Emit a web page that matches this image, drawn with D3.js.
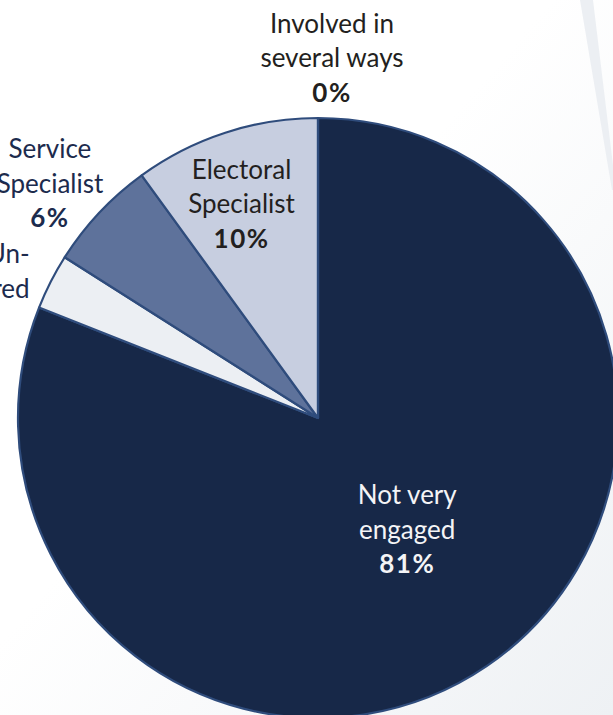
<!DOCTYPE html>
<html>
<head>
<meta charset="utf-8">
<script src="https://cdn.jsdelivr.net/npm/d3@7"></script>
<style>
  html, body { margin: 0; padding: 0; background: #ffffff; }
  svg { display: block; }
</style>
</head>
<body>
<svg id="chart" width="613" height="715"></svg>
<script>
// Engagement shares, in drawing order (clockwise from 12 o'clock)
const categories = ["Not very engaged", "Un-answered", "Service Specialist", "Electoral Specialist", "Involved in several ways"];
const labelLines = [["Not very", "engaged"], ["Un-", "answered"], ["Service", "Specialist"], ["Electoral", "Specialist"], ["Involved in", "several ways"]];
const shares = [81, 3, 6, 10, 0];
const showPercent = [true, false, true, true, true];

const fills = ["#172848", "#eceff3", "#5e729b", "#c7cee0", "#8a9bbf"];
const textColors = ["#f4f4f6", "#1c2b4d", "#1c2b4d", "#231f20", "#231f20"];

const W = 613, H = 715;
const cx = 318, cy = 418, R = 300;
const svg = d3.select("#chart");

// page backdrop: soft shading toward the lower right and a thin slanted fold
const defs = svg.append("defs");
const grad = defs.append("linearGradient").attr("id", "shade")
  .attr("x1", "0").attr("y1", "0").attr("x2", "1").attr("y2", "1");
grad.append("stop").attr("offset", "0.45").attr("stop-color", "#ffffff");
grad.append("stop").attr("offset", "1").attr("stop-color", "#eef1f4");
svg.append("rect").attr("width", W).attr("height", H).attr("fill", "url(#shade)");
svg.append("polygon")
  .attr("points", [[580, 0], [593, 0], [616, 190], [612, 190]].map(p => p.join(",")).join(" "))
  .attr("fill", "#eceff3");

const pie = d3.pie().value(d => d).sort(null);
const arcs = pie(shares);
const arc = d3.arc().innerRadius(0).outerRadius(R);

const g = svg.append("g").attr("transform", `translate(${cx},${cy})`);
g.selectAll("path.slice")
  .data(arcs)
  .join("path")
  .attr("class", "slice")
  .attr("d", arc)
  .attr("fill", (d, i) => fills[i])
  .attr("stroke", "#2f4c7c")
  .attr("stroke-width", 2.2)
  .attr("stroke-linejoin", "round");

// label placement: radius factor along each slice's mid angle plus a small nudge
const labelRadius = [0.47, 1.15, 1.18, 0.76, 1.2];
const nudge = [[10, -5], [19, 10], [-10, 8], [-6, 3], [14, 0]];
const anchors = ["middle", "end", "middle", "middle", "middle"];
const lineH = 34.5;

arcs.forEach((a, i) => {
  const rr = R * labelRadius[i];
  const c = d3.arc().innerRadius(rr).outerRadius(rr).centroid(a);
  const lines = labelLines[i].slice();
  const n = lines.length + (showPercent[i] ? 1 : 0);
  const x = c[0] + nudge[i][0];
  const yMid = c[1] + nudge[i][1];
  const t = g.append("text")
    .attr("text-anchor", anchors[i])
    .attr("fill", textColors[i])
    .attr("font-family", "Lato, 'Open Sans', sans-serif")
    .attr("font-weight", 400)
    .attr("font-size", 26);
  const y0 = yMid - (n - 1) * lineH / 2;
  lines.forEach((ln, k) => {
    t.append("tspan").attr("x", x).attr("y", y0 + k * lineH).attr("dy", "0.35em").text(ln);
  });
  if (showPercent[i]) {
    t.append("tspan").attr("x", x).attr("y", y0 + lines.length * lineH).attr("dy", "0.35em")
      .attr("font-weight", 700).attr("letter-spacing", 1.5).text(shares[i] + "%");
  }
});
</script>
</body>
</html>
